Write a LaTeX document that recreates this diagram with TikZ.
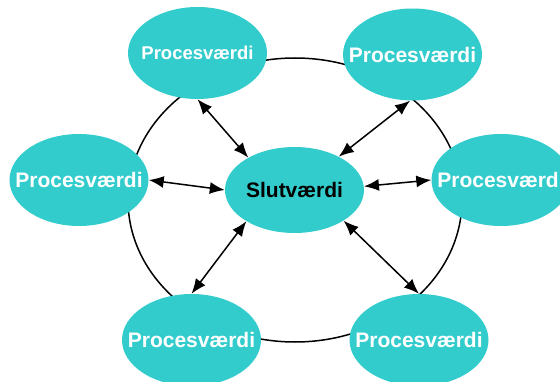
\documentclass[tikz,border=0pt]{standalone}
\usepackage{fontspec}
\setmainfont{Liberation Sans}
\usetikzlibrary{shapes.geometric,arrows.meta}
\definecolor{turq}{HTML}{33CCCC}
\newcommand{\nobox}[1]{\makebox[0pt][c]{#1}}
\begin{document}
\begin{tikzpicture}[x=1pt,y=-1pt,
  blob/.style={ellipse,fill=turq,draw=none,inner sep=0pt,minimum width=139pt,minimum height=92pt,
    font=\fontsize{21}{25}\selectfont\bfseries,text=white},
  core/.style={blob,minimum height=86pt,text=black},
  link/.style={line width=1.5pt,{Latex[length=15pt,width=12pt]}-{Latex[length=15pt,width=12pt]}}]
\useasboundingbox (0,0) rectangle (560,382);
\draw[line width=1.5pt] (295,200) ellipse [x radius=167pt, y radius=142pt];
\node[blob,font=\fontsize{18.5}{22}\selectfont\bfseries] (tl) at (197.5,53) {\nobox{Procesværdi}};
\node[blob] (tr) at (412.5,54.5) {\nobox{Procesværdi}};
\node[blob] (l) at (79,180) {\nobox{Procesværdi}};
\node[blob] (r) at (501,180) {\nobox{Procesværdi}};
\node[blob] (bl) at (191.5,340) {\nobox{Procesværdi}};
\node[blob] (br) at (419,340) {\nobox{Procesværdi}};
\node[core] (c) at (294.5,190) {\nobox{Slutværdi}};
\draw[link] (tl.270) -- (c.145);
\draw[link] (l.0) -- (c.180);
\draw[link] (tr.267) -- (c.37);
\draw[link] (r.180) -- (c.3);
\draw[link] (bl.90) -- (c.213);
\draw[link] (br.90) -- (c.328);
\end{tikzpicture}
\end{document}
